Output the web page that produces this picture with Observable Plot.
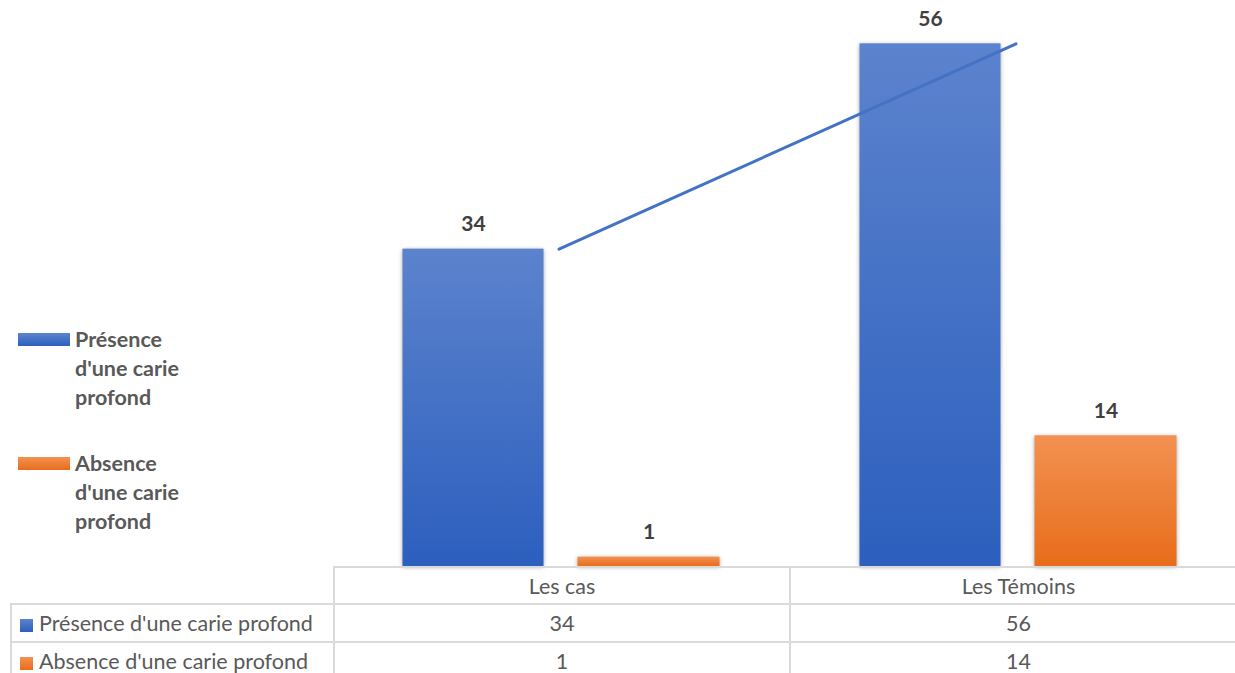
<!DOCTYPE html>
<html>
<head>
<meta charset="utf-8">
<script src="https://cdn.jsdelivr.net/npm/d3@7"></script>
<script src="https://cdn.jsdelivr.net/npm/@observablehq/plot@0.6"></script>
<style>
  html, body { margin: 0; padding: 0; background: #fff; }
  #wrap { position: relative; width: 1235px; height: 673px; overflow: hidden; font-family: Lato, "Open Sans", sans-serif; }
  #chart { position: absolute; left: 0; top: 0; }
  #chart svg rect.bar { filter: drop-shadow(0px 1px 2px rgba(0,0,0,0.35)); }
  .legend { position: absolute; left: 18px; font-weight: bold; color: #595959; font-size: 21.5px; }
  .legend .sw { position: absolute; left: 0; width: 52px; height: 13px; }
  .legend .lbl { position: absolute; left: 57px; width: 130px; line-height: 29px; }
  table.dt { position: absolute; left: 10px; top: 566px; width: 1238px; border-collapse: collapse; font-size: 21.5px; color: #595959; table-layout: fixed; }
  table.dt td { border: 2px solid #dadada; text-align: center; padding: 0; white-space: nowrap; line-height: 24px; }
  table.dt td.rowh { text-align: left; padding-left: 8px; }
  table.dt td.empty { border-top: none; border-left: none; border-bottom: 2px solid #dadada; }
  .sq { display: inline-block; width: 13px; height: 13px; margin-right: 6px; vertical-align: -1px; }
</style>
</head>
<body>
<div id="wrap">
  <div id="chart"></div>
</div>
<script>
const categories = ["Les cas", "Les Témoins"];
const seriesNames = ["Présence d'une carie profond", "Absence d'une carie profond"];
const presence = [34, 56];
const absence = [1, 14];

const presData = categories.map((c, i) => ({category: c, value: presence[i]}));
const absData = categories.map((c, i) => ({category: c, value: absence[i]}));

const blueGrad = "url(#gBlue)";
const orangeGrad = "url(#gOrange)";

const chart = Plot.plot({
  width: 1235,
  height: 673,
  marginTop: 6,
  marginBottom: 107,
  marginLeft: 0,
  marginRight: 0,
  style: {fontFamily: "Lato, 'Open Sans', sans-serif", overflow: "visible"},
  x: {type: "band", domain: categories, range: [332.5, 1246.5], padding: 0, axis: null},
  y: {domain: [0, 60], axis: null},
  marks: [
    Plot.barY(presData, {x: "category", y: "value", fill: blueGrad, insetLeft: 69.5, insetRight: 246.5}),
    Plot.barY(absData, {x: "category", y: "value", fill: orangeGrad, insetLeft: 244.5, insetRight: 70.5}),
    Plot.line(presData, {x: "category", y: "value", stroke: "#4472c4", strokeWidth: 3, dx: -3}),
    Plot.text(presData, {x: "category", y: "value", text: d => String(d.value), dx: -88.5, dy: -25, fontSize: 21, fontWeight: "bold", fill: "#404040"}),
    Plot.text(absData, {x: "category", y: "value", text: d => String(d.value), dx: 87, dy: -25, fontSize: 21, fontWeight: "bold", fill: "#404040"})
  ]
});

chart.insertAdjacentHTML("afterbegin", `
<defs>
  <linearGradient id="gBlue" x1="0" y1="0" x2="0" y2="1">
    <stop offset="0" stop-color="#5c83cd"/>
    <stop offset="1" stop-color="#2c5fbe"/>
  </linearGradient>
  <linearGradient id="gOrange" x1="0" y1="0" x2="0" y2="1">
    <stop offset="0" stop-color="#f39152"/>
    <stop offset="1" stop-color="#e86d1a"/>
  </linearGradient>
</defs>`);
chart.querySelectorAll("rect").forEach(r => r.classList.add("bar"));
document.getElementById("chart").appendChild(chart);

const wrap = document.getElementById("wrap");
const swatches = [
  "linear-gradient(#5c83cd, #2c5fbe)",
  "linear-gradient(#f39152, #e86d1a)"
];
const legendTops = [325, 449];
seriesNames.forEach((name, i) => {
  const g = document.createElement("div");
  g.className = "legend";
  g.style.top = legendTops[i] + "px";
  g.innerHTML = `<div class="sw" style="top:8px;background:${swatches[i]}"></div><div class="lbl"></div>`;
  g.querySelector(".lbl").textContent = name;
  wrap.appendChild(g);
});

// data table
const table = document.createElement("table");
table.className = "dt";
const colW = [323, 456, 457];
const cg = document.createElement("colgroup");
colW.forEach(w => { const c = document.createElement("col"); c.style.width = w + "px"; cg.appendChild(c); });
table.appendChild(cg);
const rowH = [37, 38, 38];
const hr = document.createElement("tr");
hr.style.height = rowH[0] + "px";
const e = document.createElement("td"); e.className = "empty"; hr.appendChild(e);
categories.forEach(c => { const td = document.createElement("td"); td.textContent = c; hr.appendChild(td); });
table.appendChild(hr);
[presence, absence].forEach((vals, i) => {
  const tr = document.createElement("tr");
  tr.style.height = rowH[i + 1] + "px";
  const th = document.createElement("td");
  th.className = "rowh";
  th.innerHTML = `<span class="sq" style="background:${swatches[i]}"></span>`;
  th.appendChild(document.createTextNode(seriesNames[i]));
  tr.appendChild(th);
  vals.forEach(v => { const td = document.createElement("td"); td.textContent = v; tr.appendChild(td); });
  table.appendChild(tr);
});
wrap.appendChild(table);
</script>
</body>
</html>
